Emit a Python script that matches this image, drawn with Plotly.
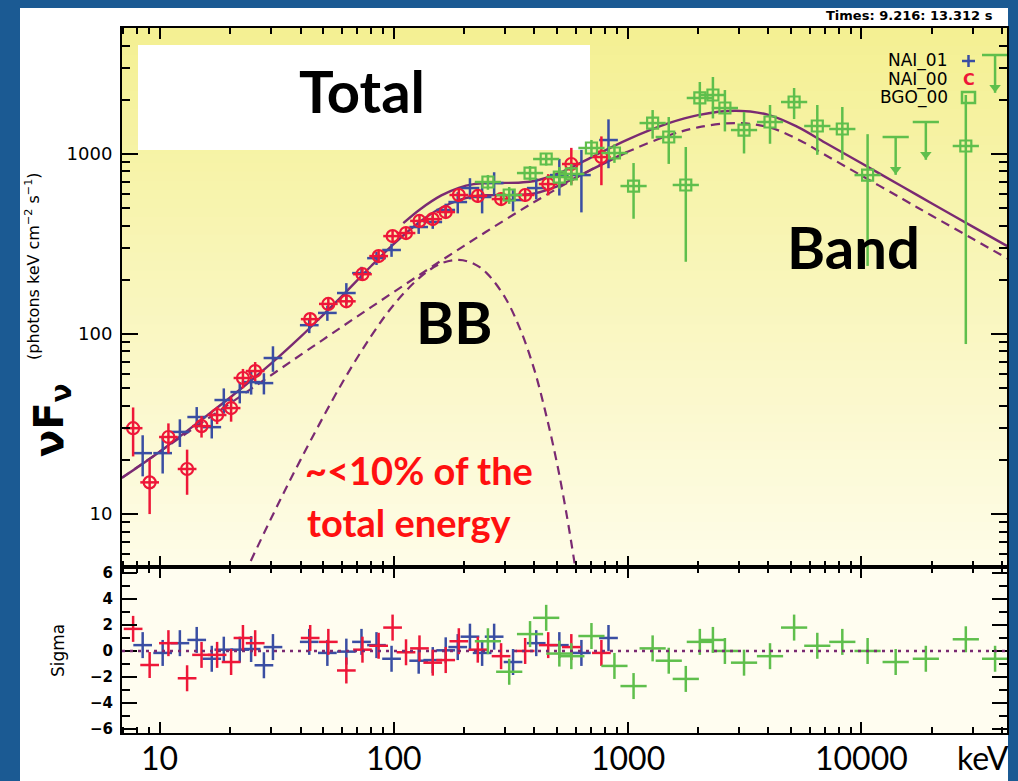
import math
import plotly.graph_objects as go

# ---------------- NAI_01 (keV, photons keV cm^-2 s^-1) ----------------
nai01_e = [8.46, 10.3, 12.2, 14.4, 16.7, 18.8, 22.0, 24.6, 27.9, 30.5, 43.6, 52.1, 62.8, 72.9,
           84.5, 98, 128, 147, 167, 188, 212, 239, 269, 324, 407, 511, 635, 829]
nai01_f = [21.8, 21.8, 28.6, 34.6, 30.4, 43.0, 47.6, 54.1, 53.4, 73.6, 112, 131, 169, 218,
           264, 293, 393, 419, 489, 541, 647, 577, 690, 555, 647, 764, 764, 1196]
nai01_err = [5.6, 5.0, 5.0, 4.7, 4.1, 6.9, 6.4, 8.0, 7.2, 11.9, 10.8, 12.6, 22.8, 18.3,
             22.2, 24.6, 33, 35, 41, 73, 87, 109, 102, 75, 87, 176, 290, 362]
nai01_sigma = [0.45, -0.15, 0.6, 0.85, -0.6, 0.1, 0.1, 0.15, -1.1, 0.3, 0.7, -0.15, -0.05, 0.7,
               0.45, -0.6, -0.75, -0.7, 0.05, 0.3, 1.1, -0.15, 1.1, -0.85, 0.6, 0.45, -0.15, 1.0]

# ---------------- NAI_00 ----------------
nai00_e = [7.7, 9.06, 10.9, 13.1, 15.1, 17.6, 20.2, 22.7, 25.6, 44, 52.6, 62.8, 73.6, 86.3,
           99, 113, 129, 147, 167, 190, 229, 288, 365, 458, 575, 773]
nai00_f = [30, 15, 26.8, 17.8, 30.8, 35.5, 38.8, 57, 62.3, 121, 147, 152, 215, 271,
           350, 364, 425, 435, 476, 592, 585, 562, 592, 681, 880, 962]
nai00_err = [9.1, 5, 5.1, 5, 4.2, 3.9, 6.2, 7.0, 7.6, 8.7, 10.6, 10.9, 15.5, 19.5,
             25, 26, 31, 31, 34, 50, 49, 47, 50, 92, 202, 291]
nai00_sigma = [1.7, -1.08, 0.6, -2.1, -0.3, -0.3, -0.85, 1.0, 0.6, 1.0, 0.7, -1.5, 0.1, 0.4,
               1.8, -0.1, 0.2, -0.9, -0.7, 0.75, 0.1, -0.4, 0.0, 0.45, 0.3, -0.15]

# ---------------- BGO_00 ----------------
bgo_e = [253, 312, 383, 449, 511, 575, 701, 879, 1061, 1280, 1500, 1774, 2037, 2317, 2607,
         3147, 4064, 5152, 6473, 8280, 10620, 27920]
bgo_f = [699, 592, 784, 938, 745, 775, 1080, 1013, 664, 1486, 1243, 673, 2048, 2127, 1801,
         1359, 1506, 1945, 1431, 1377, 764, 1108]
bgo_err = [66, 64, 74, 75, 102, 106, 117, 120, 227, 269, 362, 421, 465, 551, 466,
           352, 366, 381, 441, 448, 525, 1020]
bgo_sigma = [0.75, -1.6, 1.3, 2.55, -0.2, -0.4, 1.15, -1.15, -2.7, 0.2, -0.75, -2.15, 0.7, 0.85, 0.0,
             -0.9, -0.4, 1.8, 0.4, 0.7, 0.0, 0.9]
# BGO upper limits
bgo_ul_e = [14000, 18840, 37240]
bgo_ul_f = [1243, 1506, 3548]
bgo_ul_sigma = [-0.85, -0.6, -0.6]

# ---------------- model curves ----------------
band_e = [6.9, 10, 20, 50, 100, 200, 400, 700, 1000, 1500, 2000, 2900, 4000, 5300, 7000,
          10000, 15000, 20000, 30000, 42000]
band_f = [15.9, 22.2, 41.2, 93.2, 171, 309, 542, 819, 1028, 1268, 1406, 1486, 1411, 1214, 988,
          759, 562, 454, 337, 263]

bb_e = [23, 30, 40, 60, 80, 100, 130, 160, 190, 220, 250, 300, 350, 400, 450, 500, 550, 600]
bb_f = [4.6, 9.5, 20, 53, 97, 145, 207, 247, 258, 246, 218, 159, 104, 63, 35, 19, 9.8, 4.9]

nai_total_e = [6.9, 10, 15, 20, 30, 40, 50, 60, 80, 100, 130, 160, 190, 220, 250, 300, 350,
               400, 500, 600, 700, 1000]
nai_total_f = [15.9, 22.2, 33.2, 44.4, 68.7, 96.4, 127.9, 162, 238, 316, 422, 503, 555, 581,
               590, 591, 594, 605, 662, 740, 819, 1028]

bgo_total_e = [110, 130, 160, 190, 220, 250, 300, 350, 400, 500, 600, 700, 1000, 1500, 2000,
               2900, 4000, 5300, 7000, 10000, 15000, 20000, 30000, 42000]
bgo_total_f = [413, 494, 589, 649, 680, 690, 691, 695, 708, 775, 866, 958, 1203, 1484, 1645,
               1739, 1651, 1420, 1156, 888, 658, 531, 394, 308]

# axis tick labels
x_ticks = [10, 100, 1000, 10000]
x_ticktext = ["10", "100", "1000", "10000"]
y_ticks = [10, 100, 1000]
y_ticktext = ["10", "100", "1000"]
s_ticks = [-6, -4, -2, 0, 2, 4, 6]
s_ticktext = ["\u22126", "\u22124", "\u22122", "0", "2", "4", "6"]

# ---------------- styling ----------------
W, H = 1018, 781
ML, MR, MT, MB = 122, 11, 28, 48
PW, PH = W - ML - MR, H - MT - MB
SPLIT = 166 / PH                      # residual panel fraction

BLUE = "#3a4ea3"
RED = "#ee1738"
GREEN = "#5fbf4c"
PURPLE = "#7a2a72"
SLIDE_BLUE = "#1b5a93"

NAI_DEX = 0.040      # half bin width (decades)
BGO_DEX = 0.056
UL_ARROW_DEX = 0.21

X_RANGE = [0.839, 4.622]
Y_RANGE = [0.706, 3.700]
S_RANGE = [-6.31, 6.46]


def px(x):
    return (x - ML) / PW


def py(y):
    return (MT + PH - y) / PH


def bin_err(e, dex):
    return dict(type="data", symmetric=False,
                array=[v * (10 ** dex - 1) for v in e],
                arrayminus=[v * (1 - 10 ** -dex) for v in e])


fig = go.Figure()

# model curves (top panel)
curve = dict(mode="lines", line_shape="spline", hoverinfo="skip", showlegend=False)
fig.add_trace(go.Scatter(x=band_e, y=band_f, line=dict(color=PURPLE, width=2.2, dash="9px,6px"), **curve))
fig.add_trace(go.Scatter(x=bb_e, y=bb_f, line=dict(color=PURPLE, width=2.2, dash="9px,6px"), **curve))
fig.add_trace(go.Scatter(x=nai_total_e, y=nai_total_f, line=dict(color=PURPLE, width=2.4), **curve))
fig.add_trace(go.Scatter(x=bgo_total_e, y=bgo_total_f, line=dict(color=PURPLE, width=2.4), **curve))

# data (top panel)
fig.add_trace(go.Scatter(
    x=nai01_e, y=nai01_f, mode="markers", showlegend=False,
    marker=dict(size=1, color=BLUE),
    error_x=dict(**bin_err(nai01_e, NAI_DEX), color=BLUE, thickness=2.5, width=0),
    error_y=dict(type="data", array=nai01_err, color=BLUE, thickness=2.5, width=0)))
fig.add_trace(go.Scatter(
    x=nai00_e, y=nai00_f, mode="markers", showlegend=False,
    marker=dict(size=12, symbol="circle-open", color=RED, line=dict(width=2.2, color=RED)),
    error_x=dict(**bin_err(nai00_e, NAI_DEX), color=RED, thickness=2.5, width=0),
    error_y=dict(type="data", array=nai00_err, color=RED, thickness=2.5, width=0)))
fig.add_trace(go.Scatter(
    x=bgo_e, y=bgo_f, mode="markers", showlegend=False,
    marker=dict(size=11, symbol="square-open", color=GREEN, line=dict(width=2.2, color=GREEN)),
    error_x=dict(**bin_err(bgo_e, BGO_DEX), color=GREEN, thickness=2.5, width=0),
    error_y=dict(type="data", array=bgo_err, color=GREEN, thickness=2.5, width=0)))
# upper limits: bar + downward arrow
fig.add_trace(go.Scatter(
    x=bgo_ul_e, y=bgo_ul_f, mode="markers", showlegend=False,
    marker=dict(size=1, color=GREEN),
    error_x=dict(**bin_err(bgo_ul_e, BGO_DEX), color=GREEN, thickness=2.5, width=0),
    error_y=dict(type="data", symmetric=False, array=[0] * len(bgo_ul_f),
                 arrayminus=[f * (1 - 10 ** -UL_ARROW_DEX) for f in bgo_ul_f],
                 color=GREEN, thickness=2.5, width=0)))
fig.add_trace(go.Scatter(
    x=bgo_ul_e, y=[f * 10 ** -(UL_ARROW_DEX - 0.03) for f in bgo_ul_f], mode="markers",
    showlegend=False, marker=dict(size=10, symbol="triangle-down", color=GREEN)))

# residual panel
fig.add_shape(type="line", xref="x2 domain", yref="y2", x0=0, x1=1, y0=0, y1=0,
              line=dict(color=PURPLE, width=2.5, dash="3px,5px"))
for e, s, c, dex in [(nai01_e, nai01_sigma, BLUE, NAI_DEX), (nai00_e, nai00_sigma, RED, NAI_DEX),
                     (bgo_e + bgo_ul_e, bgo_sigma + bgo_ul_sigma, GREEN, BGO_DEX)]:
    fig.add_trace(go.Scatter(
        x=e, y=s, xaxis="x2", yaxis="y2", mode="markers", showlegend=False,
        marker=dict(size=1, color=c),
        error_x=dict(**bin_err(e, dex), color=c, thickness=2.5, width=0),
        error_y=dict(type="constant", value=1, color=c, thickness=2.5, width=0)))

# ---------------- axes ----------------
dec_minor = [k * 10 ** n for n in range(0, 5) for k in range(2, 10)]
x_minor = [v for v in dec_minor if 6.9 <= v <= 41900]
y_minor = [v for v in dec_minor if 5.1 <= v <= 5012]

axis_common = dict(showline=True, linecolor="black", linewidth=2, mirror="allticks",
                   ticks="inside", tickcolor="black", showgrid=False, zeroline=False,
                   automargin=False)

fig.update_layout(
    width=W, height=H,
    margin=dict(l=ML, r=MR, t=MT, b=MB),
    paper_bgcolor=SLIDE_BLUE, plot_bgcolor="rgba(0,0,0,0)",
    xaxis=dict(type="log", range=X_RANGE, domain=[0, 1], anchor="y",
               tickvals=x_ticks, showticklabels=False, ticklen=11, tickwidth=1.8,
               minor=dict(tickvals=x_minor, ticks="inside", ticklen=6, tickwidth=1.5, tickcolor="black"),
               **axis_common),
    yaxis=dict(type="log", range=Y_RANGE, domain=[SPLIT, 1], anchor="x",
               tickvals=y_ticks, ticktext=y_ticktext, ticklen=16, tickwidth=1.8,
               tickfont=dict(family="DejaVu Sans", size=18, color="black"), ticklabelstandoff=4,
               minor=dict(tickvals=y_minor, ticks="inside", ticklen=8, tickwidth=1.5, tickcolor="black"),
               **axis_common),
    xaxis2=dict(type="log", range=X_RANGE, domain=[0, 1], anchor="y2",
                tickvals=x_ticks, showticklabels=False, ticklen=11, tickwidth=1.8,
                minor=dict(tickvals=x_minor, ticks="inside", ticklen=6, tickwidth=1.5, tickcolor="black"),
                **axis_common),
    yaxis2=dict(range=S_RANGE, domain=[0, SPLIT], anchor="x2",
                tickvals=s_ticks, ticktext=s_ticktext, ticklen=15, tickwidth=1.8,
                tickfont=dict(family="DejaVu Sans", size=15, color="black", weight="bold"),
                ticklabelstandoff=4,
                minor=dict(dtick=1, ticks="inside", ticklen=8, tickwidth=1.5, tickcolor="black"),
                **axis_common),
)

# ---------------- backgrounds ----------------
shapes = [dict(type="rect", xref="paper", yref="paper", x0=px(20), x1=px(1008), y0=py(800), y1=py(8),
               fillcolor="white", line_width=0, layer="below")]
top_rgb, bot_rgb = (244, 240, 146), (254, 252, 232)
NB = 60
for i in range(NB):
    t = (i + 0.5) / NB
    c = tuple(round(top_rgb[k] + (bot_rgb[k] - top_rgb[k]) * (1 - t)) for k in range(3))
    shapes.append(dict(type="rect", xref="x domain", yref="y domain", x0=0, x1=1,
                       y0=i / NB, y1=(i + 1) / NB + 0.002,
                       fillcolor="rgb(%d,%d,%d)" % c, line_width=0, layer="below"))
shapes.append(dict(type="rect", xref="x2 domain", yref="y2 domain", x0=0, x1=1, y0=0, y1=1,
                   fillcolor="#fffdf0", line_width=0, layer="below"))
# label box
shapes.append(dict(type="rect", xref="paper", yref="paper", x0=px(138), x1=px(590), y0=py(150), y1=py(45),
                   fillcolor="white", line_width=0, layer="below"))
# legend symbols
shapes += [
    dict(type="line", xref="paper", yref="paper", x0=px(962), x1=px(975), y0=py(61), y1=py(61),
         line=dict(color=BLUE, width=2.5)),
    dict(type="line", xref="paper", yref="paper", x0=px(968.5), x1=px(968.5), y0=py(55), y1=py(67),
         line=dict(color=BLUE, width=2.5)),
    dict(type="rect", xref="paper", yref="paper", x0=px(962), x1=px(975), y0=py(103), y1=py(92),
         line=dict(color=GREEN, width=2.5)),
]
fig.update_layout(shapes=fig.layout.shapes + tuple(shapes))

# ---------------- text ----------------
def note(x, y, text, size, color="black", family="Lato", weight="bold", xanchor="center", angle=0):
    fig.add_annotation(x=px(x), y=py(y), xref="paper", yref="paper", text=text, showarrow=False,
                       xanchor=xanchor, yanchor="middle", textangle=angle,
                       font=dict(family=family, size=size, color=color, weight=weight))

# energy axis labels under the residual panel
for v, t in zip(x_ticks, x_ticktext):
    fig.add_annotation(x=math.log10(v), y=py(757), xref="x2", yref="paper", text=t, showarrow=False,
                       xanchor="center", yanchor="middle",
                       font=dict(family="Lato", size=32, color="black"))

note(362, 90, "Total", 58)
note(853, 246, "Band", 58)
note(454, 321, "BB", 58)
note(303, 470, "~<10% of the", 38, color="#ff1010", xanchor="left")
note(305, 522, "total energy", 38, color="#ff1010", xanchor="left")
note(995, 16, "Times: 9.216: 13.312 s", 13, family="DejaVu Sans", xanchor="right")
note(950, 61, "NAI_01", 17, family="DejaVu Sans", weight="normal", xanchor="right")
note(950, 79, "NAI_00", 17, family="DejaVu Sans", weight="normal", xanchor="right")
note(950, 97, "BGO_00", 17, family="DejaVu Sans", weight="normal", xanchor="right")
note(968.5, 79, "C", 16, color=RED, family="DejaVu Sans")
note(983, 757, "keV", 32, family="Lato", weight="normal")
note(52, 420, "\u03bdF<sub>\u03bd</sub>", 40, family="DejaVu Sans", angle=-90)
note(32, 266, "(photons keV cm<sup>\u22122</sup> s<sup>\u22121</sup>)", 16, family="DejaVu Sans",
     weight="normal", angle=-90)
note(58, 651, "Sigma", 17, family="DejaVu Sans", weight="normal", angle=-90)

fig.write_html("out.html")
